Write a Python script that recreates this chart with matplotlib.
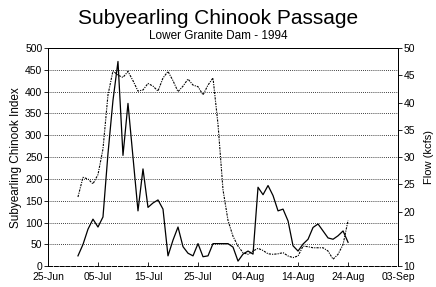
import matplotlib
matplotlib.use("Agg")
import matplotlib.pyplot as plt

plt.rcParams["font.family"] = ["Liberation Sans", "DejaVu Sans"]

# days counted from 25-Jun-1994
days = list(range(6, 61))
chinook_index = [24, 50, 85, 108, 90, 113, 258, 380, 469, 254,
                 373, 250, 127, 223, 135, 145, 152, 131, 24, 60,
                 90, 45, 30, 24, 52, 22, 24, 52, 52, 52,
                 52, 44, 12, 28, 35, 28, 181, 164, 185, 162,
                 127, 131, 104, 47, 35, 51, 62, 89, 97, 81,
                 65, 62, 70, 81, 55]
flow_kcfs = [22.7, 26.3, 26.0, 25.1, 26.8, 31.5, 41.4, 45.8, 45.0, 44.6,
             45.7, 44.0, 42.1, 42.3, 43.5, 43.0, 42.1, 44.5, 45.7, 44.0,
             42.0, 43.0, 44.3, 43.2, 42.9, 41.4, 43.2, 44.5, 36.0, 24.0,
             18.4, 15.5, 13.7, 12.5, 12.2, 12.8, 13.3, 12.9, 12.3, 12.2,
             12.3, 12.5, 11.9, 11.6, 11.9, 13.7, 13.6, 13.4, 13.4, 13.4,
             12.8, 11.3, 12.2, 14.0, 18.4]

tick_days = [0, 10, 20, 30, 40, 50, 60, 70]
tick_labels = ["25-Jun", "05-Jul", "15-Jul", "25-Jul", "04-Aug", "14-Aug", "24-Aug", "03-Sep"]

fig = plt.figure(figsize=(4.36, 2.87), dpi=100)
ax = fig.add_axes([0.110, 0.072, 0.803, 0.761])
ax2 = ax.twinx()

ax.plot(days, chinook_index, color="black", lw=0.9)
ax2.plot(days, flow_kcfs, color="black", lw=0.8, linestyle=(0, (2, 1, 1, 1)))

ax.set_xlim(0, 70)
ax.set_ylim(0, 500)
ax.set_yticks(range(0, 501, 50))
ax.set_xticks(tick_days)
ax.set_xticklabels(tick_labels)
ax2.set_ylim(10, 50)
ax2.set_yticks(range(10, 51, 5))

ax.grid(axis="y", color="black", lw=0.6, linestyle=(0, (1, 1.5)))
ax.tick_params(labelsize=7.5, length=3, width=0.6, pad=1)
ax.tick_params(axis="x", direction="in", pad=4)
ax2.tick_params(labelsize=7.5, length=3, width=0.6, pad=1)

for a in (ax, ax2):
    a.spines["left"].set_linestyle((0, (1, 1)))
    a.spines["right"].set_linestyle((0, (1, 1)))
    a.spines["bottom"].set_linestyle((0, (4, 2)))
    for s in a.spines.values():
        s.set_linewidth(0.7)

ax.set_ylabel("Subyearling Chinook Index", fontsize=8.5, labelpad=2)
ax2.set_ylabel("Flow (kcfs)", fontsize=8, labelpad=6)

fig.text(0.5, 0.935, "Subyearling Chinook Passage", ha="center", va="center", fontsize=15)
fig.text(0.5, 0.876, "Lower Granite Dam - 1994", ha="center", va="center", fontsize=8.5)

fig.savefig("out.png", dpi=100)
